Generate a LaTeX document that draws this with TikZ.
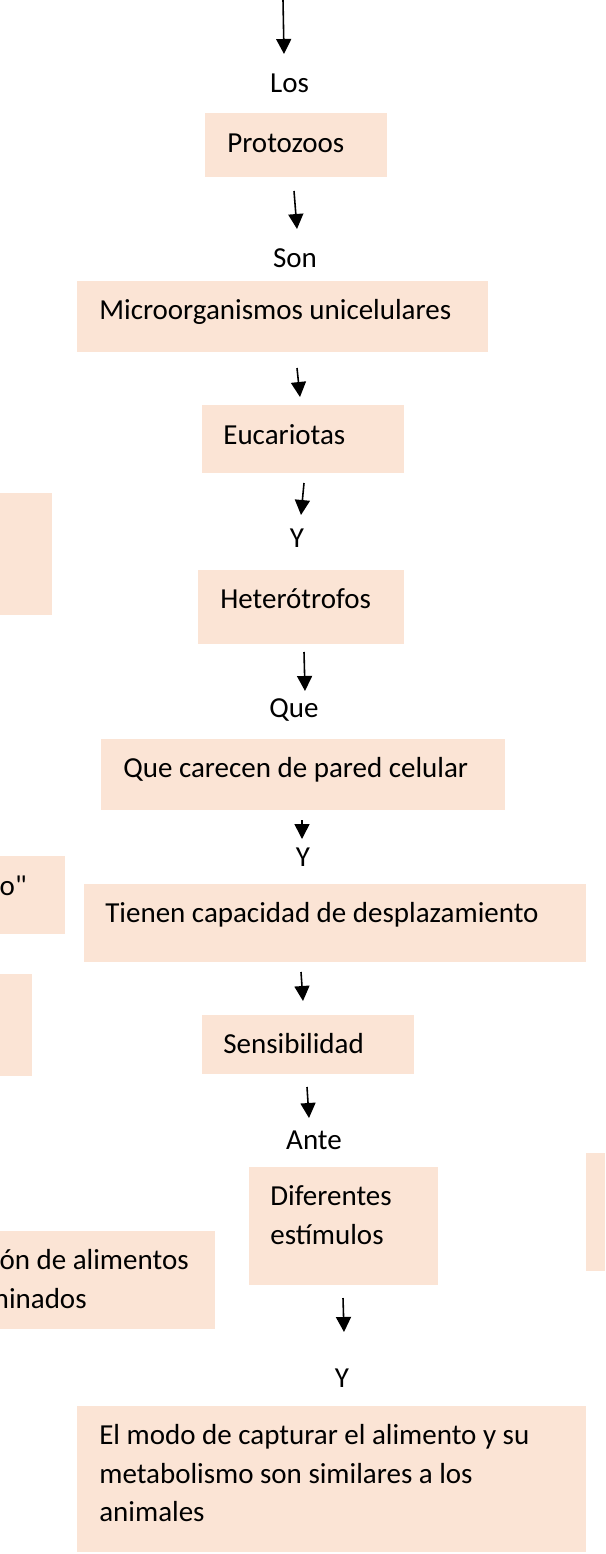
\documentclass[tikz,border=0pt]{standalone}
\usepackage{fontspec}
\newfontfamily\calib{Carlito}
\usetikzlibrary{arrows.meta}
\definecolor{peach}{HTML}{FBE4D5}

\begin{document}
\begin{tikzpicture}[x=0.02cm, y=-0.02cm, font=\calib\fontsize{16.5}{21.8}\selectfont,
    txt/.style={inner sep=0pt, anchor=base west},
    word/.style={inner sep=0pt, anchor=base},
    cut/.style={inner sep=0pt, anchor=base east},
    arr/.style={line width=0.9pt, -{Triangle[width=0.3cm, length=0.3cm]}}]
  \clip (0,0) rectangle (605,1554);

  % Boxes down the middle
  \fill[peach] (205,113) rectangle (387,177);
  \fill[peach] (77,281) rectangle (488,352);
  \fill[peach] (202,405) rectangle (404,473);
  \fill[peach] (198,570) rectangle (404,644);
  \fill[peach] (101,739) rectangle (505,810);
  \fill[peach] (84,884) rectangle (586,962);
  \fill[peach] (202,1015) rectangle (414,1074);
  \fill[peach] (249,1167) rectangle (438,1285);
  \fill[peach] (77,1406) rectangle (586,1552);

  % Boxes cut off at the edges
  \fill[peach] (0,493) rectangle (52,615);
  \fill[peach] (0,856) rectangle (65,934);
  \fill[peach] (0,974) rectangle (32,1076);
  \fill[peach] (0,1231) rectangle (215,1329);
  \fill[peach] (586,1153) rectangle (605,1271);

  % Texts
  \node[word] (los) at (289.5,93) {Los};
  \node[txt] (prot) at (227,153) {Protozoos};
  \node[word] (son) at (295,268) {Son};
  \node[txt] (micro) at (99,319) {Microorganismos unicelulares};
  \node[txt] (euca) at (223,444) {Eucariotas};
  \node[word] (y1) at (297,547) {Y};
  \node[txt] (hete) at (220,608) {Heterótrofos};
  \node[word] (que) at (294,717) {Que};
  \node[txt] (pared) at (123,777) {Que carecen de pared celular};
  \node[word] (y2) at (303,866) {Y};
  \node[txt] (despl) at (105,922) {Tienen capacidad de desplazamiento};
  \node[txt] (sens) at (223,1053) {Sensibilidad};
  \node[word] (ante) at (314,1149) {Ante};
  \node[txt] (dif1) at (270,1205) {Diferentes};
  \node[txt] (dif2) at (270,1244) {estímulos};
  \node[word] (y3) at (342,1387) {Y};
  \node[txt] (modo1) at (99,1444) {El modo de capturar el alimento y su};
  \node[txt] (modo2) at (99,1483) {metabolismo son similares a los};
  \node[txt] (modo3) at (99,1521) {animales};

  % Texts cut off at the left edge
  \node[cut] (left1) at (27,895) {o"};
  \node[cut] (left2) at (189,1269) {ón de alimentos};
  \node[cut] (left3) at (87,1308) {minados};

  % Arrows
  \coordinate (a0s) at (283,0);    \coordinate (a0e) at (284,54);
  \coordinate (a1s) at (294,191);  \coordinate (a1e) at (297,229);
  \coordinate (a2s) at (297,368);  \coordinate (a2e) at (300,397);
  \coordinate (a3s) at (304,483);  \coordinate (a3e) at (301,515);
  \coordinate (a4s) at (304,652);  \coordinate (a4e) at (305,691);
  \coordinate (a5s) at (302,820);  \coordinate (a5e) at (302,839);
  \coordinate (a6s) at (301,972);  \coordinate (a6e) at (303,1001);
  \coordinate (a7s) at (307,1087); \coordinate (a7e) at (309,1118);
  \coordinate (a8s) at (343,1298); \coordinate (a8e) at (344,1332);
  \foreach \i in {0,...,8}
    \draw[arr] (a\i s) -- (a\i e);
\end{tikzpicture}
\end{document}
